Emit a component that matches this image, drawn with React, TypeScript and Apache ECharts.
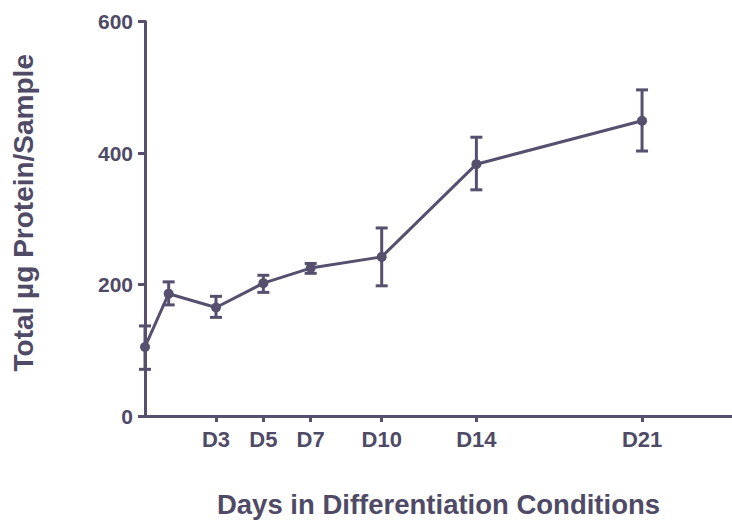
import React, { useEffect, useRef } from "react";
import * as echarts from "echarts";

// Protein yield per sample over the differentiation time course
const days = [0, 1, 3, 5, 7, 10, 14, 21];
const meanProtein = [105, 186, 165, 202, 225, 242, 383, 449];
const errLower = [71, 169, 150, 188, 217, 198, 344, 403];
const errUpper = [137, 204, 182, 214, 232, 286, 424, 496];
const tickDays = [3, 5, 7, 10, 14, 21];
const yTicks = [0, 200, 400, 600];

const INK = "#56506e";
const TEXT = "#4f4a66";
const FONT = "'Liberation Sans', Arial, sans-serif";

export default function App() {
  const ref = useRef<HTMLDivElement>(null);

  useEffect(() => {
    if (!ref.current) return;
    const chart = echarts.init(ref.current, undefined, { renderer: "svg" });

    const errData = days.map((d, i) => [d, errLower[i], errUpper[i]]);

    chart.setOption({
      animation: false,
      grid: { left: 145, right: 0, top: 21.5, bottom: 109, containLabel: false },
      xAxis: {
        type: "value",
        min: 0,
        max: 24.8,
        name: "Days in Differentiation Conditions",
        nameLocation: "middle",
        nameGap: 74,
        nameTextStyle: { color: TEXT, fontSize: 27.5, fontWeight: "bold", fontFamily: FONT },
        axisLine: { show: true, lineStyle: { color: INK, width: 3 } },
        axisTick: {
          show: true,
          length: 6,
          customValues: tickDays,
          lineStyle: { color: INK, width: 3 },
        },
        axisLabel: {
          customValues: tickDays,
          formatter: (v: number) => "D" + v,
          color: TEXT,
          fontSize: 22,
          fontWeight: "bold",
          fontFamily: FONT,
          margin: 12,
        },
        splitLine: { show: false },
      },
      yAxis: {
        type: "value",
        min: 0,
        max: 600,
        interval: 200,
        name: "Total µg Protein/Sample",
        nameLocation: "middle",
        nameGap: 108,
        nameRotate: 90,
        nameTextStyle: {
          color: TEXT,
          fontSize: 28,
          fontWeight: "bold",
          fontFamily: FONT,
          padding: [0, 0, 0, 12],
        },
        axisLine: { show: true, lineStyle: { color: INK, width: 3 } },
        axisTick: { show: true, length: 7, lineStyle: { color: INK, width: 3 } },
        axisLabel: {
          customValues: yTicks,
          color: TEXT,
          fontSize: 21,
          fontWeight: "bold",
          fontFamily: FONT,
          margin: 12,
        },
        splitLine: { show: false },
      },
      series: [
        {
          type: "custom",
          data: errData,
          z: 3,
          renderItem: (params: any, api: any) => {
            const x = api.value(0);
            const lo = api.coord([x, api.value(1)]);
            const hi = api.coord([x, api.value(2)]);
            const half = 6;
            const style = { stroke: INK, lineWidth: 3 };
            return {
              type: "group",
              children: [
                { type: "line", shape: { x1: lo[0], y1: lo[1], x2: hi[0], y2: hi[1] }, style },
                { type: "line", shape: { x1: lo[0] - half, y1: lo[1], x2: lo[0] + half, y2: lo[1] }, style },
                { type: "line", shape: { x1: hi[0] - half, y1: hi[1], x2: hi[0] + half, y2: hi[1] }, style },
              ],
            };
          },
        },
        {
          type: "line",
          data: days.map((d, i) => [d, meanProtein[i]]),
          symbol: "circle",
          symbolSize: 10,
          z: 4,
          lineStyle: { color: INK, width: 3 },
          itemStyle: { color: INK },
        },
      ],
    });

    return () => chart.dispose();
  }, []);

  return (
    <div
      ref={ref}
      style={{ position: "absolute", left: 0, top: 0, width: 732, height: 525, background: "#fff" }}
    />
  );
}
